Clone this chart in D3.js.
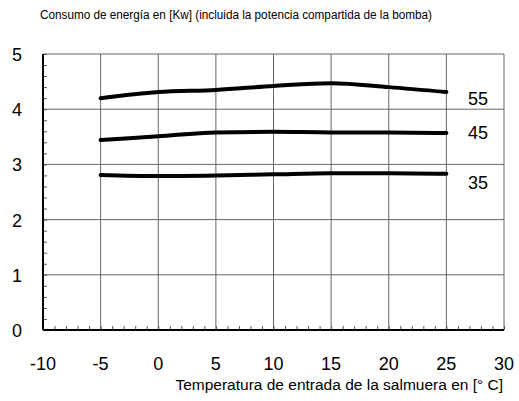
<!DOCTYPE html>
<html>
<head>
<meta charset="utf-8">
<script src="https://cdn.jsdelivr.net/npm/d3@7"></script>
<style>
  body { margin: 0; background: #fff; }
  text { font-family: "Liberation Sans", Arial, sans-serif; fill: #000; }
</style>
</head>
<body>
<div id="chart"></div>
<script>
// data
var temps = [-5, 0, 5, 10, 15, 20, 25];
var power55 = [4.20, 4.31, 4.35, 4.42, 4.47, 4.40, 4.31];
var power45 = [3.44, 3.51, 3.58, 3.59, 3.58, 3.58, 3.57];
var power35 = [2.81, 2.79, 2.80, 2.82, 2.84, 2.84, 2.83];
var seriesNames = ["55", "45", "35"];
var xTicks = [-10, -5, 0, 5, 10, 15, 20, 25, 30];
var yTicks = [0, 1, 2, 3, 4, 5];

var series = [power55, power45, power35];

var width = 519, height = 401;
var margin = {top: 54, right: 15, bottom: 71, left: 43};

var svg = d3.select("#chart").append("svg")
    .attr("width", width)
    .attr("height", height);

var x = d3.scaleLinear().domain([-10, 30]).range([margin.left, width - margin.right]);
var y = d3.scaleLinear().domain([0, 5]).range([height - margin.bottom, margin.top]);

// grid
svg.selectAll(".vgrid")
   .data(xTicks.slice(1))
   .enter()
   .append("line")
   .attr("class", "vgrid")
   .attr("x1", function(d) { return x(d); })
   .attr("x2", function(d) { return x(d); })
   .attr("y1", y(0))
   .attr("y2", y(5))
   .attr("stroke", "#666")
   .attr("stroke-width", 1);

svg.selectAll(".hgrid")
   .data(yTicks.slice(1))
   .enter()
   .append("line")
   .attr("class", "hgrid")
   .attr("x1", x(-10))
   .attr("x2", x(30))
   .attr("y1", function(d) { return y(d); })
   .attr("y2", function(d) { return y(d); })
   .attr("stroke", "#666")
   .attr("stroke-width", 1);

// minor ticks, pointing inward
svg.append("g")
   .attr("transform", "translate(0," + y(0) + ")")
   .call(d3.axisTop(x).ticks(40).tickSize(4).tickFormat(""))
   .call(function(g) { g.select(".domain").remove(); })
   .selectAll("line").attr("stroke", "#555");

svg.append("g")
   .attr("transform", "translate(" + x(-10) + ",0)")
   .call(d3.axisRight(y).ticks(25).tickSize(4).tickFormat(""))
   .call(function(g) { g.select(".domain").remove(); })
   .selectAll("line").attr("stroke", "#555");

// main axes
svg.append("line")
   .attr("x1", x(-10)).attr("x2", x(30))
   .attr("y1", y(0)).attr("y2", y(0))
   .attr("stroke", "#000").attr("stroke-width", 2);

svg.append("line")
   .attr("x1", x(-10)).attr("x2", x(-10))
   .attr("y1", y(0)).attr("y2", y(5))
   .attr("stroke", "#000").attr("stroke-width", 2);

// tick labels
svg.selectAll(".xlab")
   .data(xTicks)
   .enter()
   .append("text")
   .attr("class", "xlab")
   .attr("x", function(d) { return x(d); })
   .attr("y", 370)
   .attr("text-anchor", "middle")
   .attr("font-size", 18)
   .text(function(d) { return d; });

svg.selectAll(".ylab")
   .data(yTicks)
   .enter()
   .append("text")
   .attr("class", "ylab")
   .attr("x", 17)
   .attr("y", function(d) { return y(d) + 7; })
   .attr("text-anchor", "middle")
   .attr("font-size", 18)
   .text(function(d) { return d; });

// curves
var line = d3.line()
    .x(function(d, i) { return x(temps[i]); })
    .y(function(d) { return y(d); })
    .curve(d3.curveMonotoneX);

svg.selectAll(".curve")
   .data(series)
   .enter()
   .append("path")
   .attr("class", "curve")
   .attr("d", line)
   .attr("fill", "none")
   .attr("stroke", "#000")
   .attr("stroke-width", 4)
   .attr("stroke-linecap", "round");

// series labels
var labelY = [4.20, 3.59, 2.68];
svg.selectAll(".slab")
   .data(seriesNames)
   .enter()
   .append("text")
   .attr("class", "slab")
   .attr("x", 478)
   .attr("y", function(d, i) { return y(labelY[i]) + 7; })
   .attr("text-anchor", "middle")
   .attr("font-size", 18)
   .text(function(d) { return d; });

// titles
svg.append("text")
   .attr("x", 40)
   .attr("y", 19)
   .attr("font-size", 12)
   .attr("textLength", 392)
   .attr("lengthAdjust", "spacingAndGlyphs")
   .text("Consumo de energía en [Kw] (incluida la potencia compartida de la bomba)");

svg.append("text")
   .attr("x", 503)
   .attr("y", 390)
   .attr("text-anchor", "end")
   .attr("font-size", 15.5)
   .text("Temperatura de entrada de la salmuera en [° C]");
</script>
</body>
</html>
